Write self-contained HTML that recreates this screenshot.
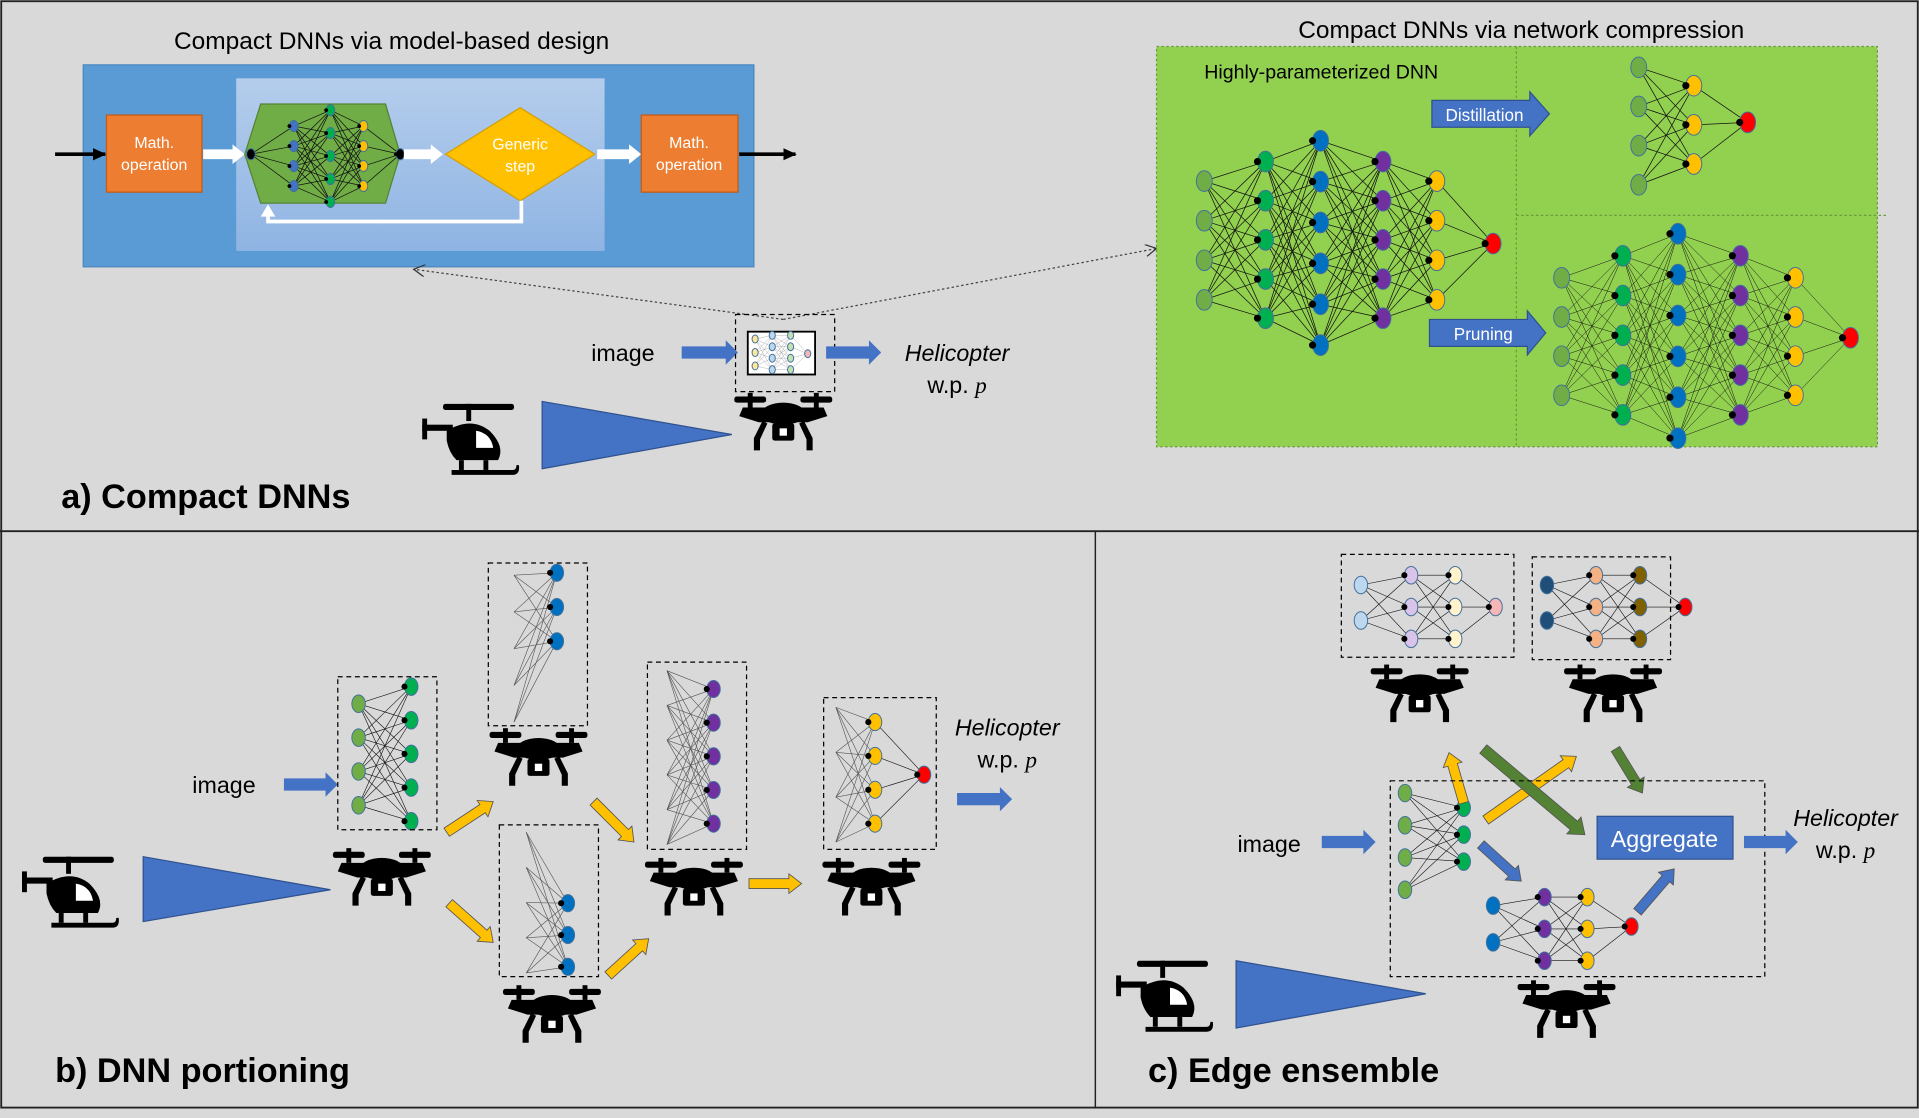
<!DOCTYPE html>
<html><head><meta charset="utf-8"><style>
html,body{margin:0;padding:0;background:#d9d9d9;}
svg{display:block;font-family:"Liberation Sans",sans-serif;}
</style></head><body>
<svg id="s" xmlns="http://www.w3.org/2000/svg" width="1919" height="1118" viewBox="0 0 1568 913.5">
<defs>
<marker id="ah" markerUnits="userSpaceOnUse" markerWidth="12" markerHeight="12" refX="10" refY="6" orient="auto"><path d="M0,1 L11,6 L0,11 z" fill="#000"/></marker>
<marker id="ao" markerUnits="userSpaceOnUse" markerWidth="10" markerHeight="10" refX="9" refY="5" orient="auto"><path d="M0,0 L9,5 L0,10" fill="none" stroke="#333" stroke-width="1"/></marker>
<linearGradient id="lg" x1="0" y1="0" x2="0" y2="1"><stop offset="0" stop-color="#b4cdec"/><stop offset="1" stop-color="#8fb4e3"/></linearGradient>
</defs>
<rect x="0" y="0" width="1568" height="913.5" fill="#d9d9d9"/>
<rect x="1" y="1" width="1566" height="904" fill="none" stroke="#222" stroke-width="1.5"/>
<line x1="0" y1="434" x2="1568" y2="434" stroke="#222" stroke-width="1.5"/>
<line x1="895" y1="434" x2="895" y2="905" stroke="#222" stroke-width="1.2"/>

<text x="320" y="40" font-size="20" text-anchor="middle">Compact DNNs via model-based design</text>
<rect x="68" y="53" width="548" height="165" fill="#5b9bd5" stroke="#4a86c0"/>
<rect x="193" y="64" width="301" height="141" fill="url(#lg)"/>
<line x1="45" y1="126" x2="86" y2="126" stroke="#000" stroke-width="3" marker-end="url(#ah)"/>
<rect x="87" y="94" width="78" height="63" fill="#ed7d31" stroke="#c55a11"/>
<text x="126" y="121" font-size="13" fill="#fff" text-anchor="middle">Math.</text>
<text x="126" y="139" font-size="13" fill="#fff" text-anchor="middle">operation</text>
<polygon points="166,122 190,122 190,118 200,126 190,134 190,130 166,130" fill="#fff"/>
<polygon points="213,85 315,85 327,126 315,166 213,166 200,126" fill="#70ad47" stroke="#548235"/>
<g id="hexnet"></g>
<polygon points="330,122 352,122 352,118 362,126 352,134 352,130 330,130" fill="#fff"/>
<polygon points="425,88 486,126 425,164 364,126" fill="#ffc000" stroke="#d69e00"/>
<text x="425" y="122" font-size="13" fill="#fff" text-anchor="middle">Generic</text>
<text x="425" y="140" font-size="13" fill="#fff" text-anchor="middle">step</text>
<polygon points="488,122 514,122 514,118 524,126 514,134 514,130 488,130" fill="#fff"/>
<rect x="524" y="94" width="79" height="63" fill="#ed7d31" stroke="#c55a11"/>
<text x="563" y="121" font-size="13" fill="#fff" text-anchor="middle">Math.</text>
<text x="563" y="139" font-size="13" fill="#fff" text-anchor="middle">operation</text>
<line x1="604" y1="126" x2="650" y2="126" stroke="#000" stroke-width="3" marker-end="url(#ah)"/>
<polyline points="426,164 426,181 219,181 219,176" fill="none" stroke="#fff" stroke-width="3"/>
<polygon points="213,177 225,177 219,167" fill="#fff"/>

<line x1="640" y1="261" x2="338" y2="220" stroke="#444" stroke-width="1" stroke-dasharray="2,2" marker-end="url(#ao)"/>
<line x1="640" y1="261" x2="945" y2="203" stroke="#444" stroke-width="1" stroke-dasharray="2,2" marker-end="url(#ao)"/>
<text x="509" y="295" font-size="19" text-anchor="middle">image</text>
<polygon points="557,283 593,283 593,278 603,288 593,298 593,293 557,293" fill="#4472c4"/>
<rect x="601" y="257" width="81" height="63" fill="none" stroke="#000" stroke-dasharray="4,3"/>
<rect x="611" y="271" width="55" height="35" fill="#fff" stroke="#000" stroke-width="1.5"/>
<g id="mininet"></g>
<polygon points="675,283 710,283 710,278 720,288 710,298 710,293 675,293" fill="#4472c4"/>
<text x="782" y="295" font-size="19" font-style="italic" text-anchor="middle">Helicopter</text>
<text x="782" y="321" font-size="19" text-anchor="middle">w.p. <tspan font-family="Liberation Serif" font-style="italic">p</tspan></text>
<polygon points="443,328 443,383 598,355" fill="#4472c4" stroke="#2f528f"/>
<text x="50" y="415" font-size="28" font-weight="bold">a) Compact DNNs</text>

<text x="1243" y="31" font-size="20" text-anchor="middle">Compact DNNs via network compression</text>
<rect x="945" y="38" width="589" height="327" fill="#92d050" stroke="#6a9a3a" stroke-dasharray="2,2"/>
<line x1="1239" y1="38" x2="1239" y2="365" stroke="#6a9a3a" stroke-dasharray="2,2"/>
<line x1="1239" y1="176" x2="1542" y2="176" stroke="#6a9a3a" stroke-dasharray="2,2"/>
<text x="984" y="64" font-size="16">Highly-parameterized DNN</text>
<polygon points="1170,82 1250,82 1250,75 1266,93 1250,111 1250,104 1170,104" fill="#4472c4" stroke="#2f528f"/>
<text x="1213" y="99" font-size="14" fill="#fff" text-anchor="middle">Distillation</text>
<polygon points="1168,261 1248,261 1248,254 1263,272 1248,290 1248,283 1168,283" fill="#4472c4" stroke="#2f528f"/>
<text x="1212" y="278" font-size="14" fill="#fff" text-anchor="middle">Pruning</text>
<g id="nets"></g>

<text x="183" y="648" font-size="19" text-anchor="middle">image</text>
<polygon points="232,636 266,636 266,631 276,641 266,651 266,646 232,646" fill="#4472c4"/>
<rect x="276" y="553" width="81" height="125" fill="none" stroke="#000" stroke-dasharray="4,3"/>
<rect x="399" y="460" width="81" height="133" fill="none" stroke="#000" stroke-dasharray="4,3"/>
<rect x="408" y="674" width="81" height="124" fill="none" stroke="#000" stroke-dasharray="4,3"/>
<rect x="529" y="541" width="81" height="153" fill="none" stroke="#000" stroke-dasharray="4,3"/>
<rect x="673" y="570" width="92" height="124" fill="none" stroke="#000" stroke-dasharray="4,3"/>
<polygon points="117,700 117,753 270,727" fill="#4472c4" stroke="#2f528f"/>
<g id="yarrows"></g>
<text x="823" y="601" font-size="19" font-style="italic" text-anchor="middle">Helicopter</text>
<text x="823" y="627" font-size="19" text-anchor="middle">w.p. <tspan font-family="Liberation Serif" font-style="italic">p</tspan></text>
<polygon points="782,648 817,648 817,643 827,653 817,663 817,658 782,658" fill="#4472c4"/>
<text x="45" y="884" font-size="28" font-weight="bold">b) DNN portioning</text>

<rect x="1096" y="453" width="141" height="84" fill="none" stroke="#000" stroke-dasharray="4,3"/>
<rect x="1252" y="455" width="113" height="84" fill="none" stroke="#000" stroke-dasharray="4,3"/>
<rect x="1136" y="638" width="306" height="160" fill="none" stroke="#000" stroke-dasharray="4,3"/>
<text x="1037" y="696" font-size="19" text-anchor="middle">image</text>
<polygon points="1080,683 1114,683 1114,678 1124,688 1114,698 1114,693 1080,693" fill="#4472c4"/>
<rect x="1305" y="667" width="111" height="35" fill="#4472c4" stroke="#2f528f"/>
<text x="1360" y="692" font-size="19" fill="#fff" text-anchor="middle">Aggregate</text>
<polygon points="1425,683 1459,683 1459,678 1469,688 1459,698 1459,693 1425,693" fill="#4472c4"/>
<text x="1508" y="675" font-size="19" font-style="italic" text-anchor="middle">Helicopter</text>
<text x="1508" y="701" font-size="19" text-anchor="middle">w.p. <tspan font-family="Liberation Serif" font-style="italic">p</tspan></text>
<polygon points="1010,785 1010,840 1165,812" fill="#4472c4" stroke="#2f528f"/>
<text x="938" y="884" font-size="28" font-weight="bold">c) Edge ensemble</text>
<g id="icons"></g>
</svg>
<script>
var NS="http://www.w3.org/2000/svg";
function el(p,t,a){var e=document.createElementNS(NS,t);for(var k in a)e.setAttribute(k,a[k]);p.appendChild(e);return e;}
function col(x,ys,c){return {x:x,ys:ys,c:c};}
function net(g,L,r,sw,lc){
  r=r||6;sw=sw||0.6;lc=lc||"#111";
  for(var i=0;i<L.length-1;i++){var a=L[i],b=L[i+1];
    a.ys.forEach(function(y1){b.ys.forEach(function(y2){el(g,"line",{x1:a.x,y1:y1,x2:b.x,y2:y2,stroke:lc,"stroke-width":sw});});});}
  L.forEach(function(l){l.ys.forEach(function(y){el(g,"ellipse",{cx:l.x,cy:y,rx:r,ry:r*1.3,fill:l.c,stroke:"#41719c","stroke-width":0.8});
    if(l.dot!==false && l!==L[0]) el(g,"circle",{cx:l.x-r,cy:y,r:r*0.45,fill:"#000"});});});
}
function ev(a,b,n){var r=[];for(var i=0;i<n;i++)r.push(n==1?a:a+(b-a)*i/(n-1));return r;}
var G="#70ad47",GG="#00b050",B="#0070c0",P="#7030a0",Y="#ffc000",R="#ff0000";
var hx=document.getElementById("hexnet");
net(hx,[col(205,[126],"#000"),col(240,ev(103,152,4),"#4472c4"),col(270,ev(90,165,5),GG),col(297,ev(103,152,4),Y),col(327,[126],"#000")],3.5,0.6);
var mn=document.getElementById("mininet");
var L=[col(617,ev(277,299,3),"#ffe699"),col(631,ev(274,302,4),"#bdd7ee"),col(646,ev(274,302,4),"#c5e0b4"),col(660,[289],"#f4b6b6")];
L.forEach(function(l){l.dot=false;});net(mn,L,2.5,0.3,"#999");
var ns=document.getElementById("nets");
net(ns,[col(984,ev(148,245,4),G),col(1034,ev(132,260,5),GG),col(1079,ev(115,282,6),B),col(1130,ev(132,260,5),P),col(1174,ev(148,245,4),Y),col(1220,[199],R)],6.5,0.6);
net(ns,[col(1339,ev(55,151,4),G),col(1384,ev(70,134,3),Y),col(1428,[100],R)],6.5,0.6);
net(ns,[col(1276,ev(227,323,4),G),col(1326,ev(209,339,5),GG),col(1371,ev(191,358,6),B),col(1422,ev(209,339,5),P),col(1467,ev(227,323,4),Y),col(1512,[276],R)],6.5,0.4);
net(ns,[col(293,ev(575,658,4),G),col(336,ev(561,671,5),GG)],5.5,0.5);
function fan(x0,ys0,x1,ys1,c){ys0.forEach(function(a){ys1.forEach(function(b){el(ns,"line",{x1:x0,y1:a,x2:x1,y2:b,stroke:"#555","stroke-width":0.5});});});
 ys1.forEach(function(y){el(ns,"ellipse",{cx:x1,cy:y,rx:5.5,ry:7,fill:c,stroke:"#41719c","stroke-width":0.8});el(ns,"circle",{cx:x1-5.5,cy:y,r:2.5,fill:"#000"});});}
fan(420,ev(470,590,5),455,ev(468,524,3),B);
fan(430,ev(680,795,5),464,ev(738,790,3),B);
fan(545,ev(548,690,6),583,ev(563,673,5),P);
var yys=ev(590,673,4);
yys.forEach(function(y){el(ns,"line",{x1:715,y1:y,x2:755,y2:633,stroke:"#111","stroke-width":0.5});});
fan(683,ev(578,688,4),715,yys,Y);
el(ns,"ellipse",{cx:755,cy:633,rx:5.5,ry:7,fill:R,stroke:"#41719c","stroke-width":0.8});el(ns,"circle",{cx:749.5,cy:633,r:2.5,fill:"#000"});
net(ns,[col(1112,[478,507],"#bdd7ee"),col(1153,ev(470,522,3),"#d9c3e9"),col(1189,ev(470,522,3),"#fff2cc"),col(1222,[496],"#f4b6b6")],5.5,0.5);
net(ns,[col(1264,[478,507],"#1f4e79"),col(1304,ev(470,522,3),"#f4b183"),col(1340,ev(470,522,3),"#806000"),col(1377,[496],R)],5.5,0.5);
net(ns,[col(1148,ev(648,727,4),G),col(1196,ev(660,704,3),GG)],5.5,0.5);
net(ns,[col(1220,[740,770],B),col(1262,ev(733,785,3),P),col(1297,ev(733,785,3),Y),col(1333,[757],R)],5.5,0.5);
function tarr(g,x1,y1,x2,y2,c,w){var dx=x2-x1,dy=y2-y1,Ln=Math.hypot(dx,dy),ux=dx/Ln,uy=dy/Ln,px=-uy,py=ux,h=w,hw=w;
 var bx=x2-ux*h*1.3,by=y2-uy*h*1.3,s=w/2;
 var pts=[[x1+px*s,y1+py*s],[bx+px*s,by+py*s],[bx+px*hw,by+py*hw],[x2,y2],[bx-px*hw,by-py*hw],[bx-px*s,by-py*s],[x1-px*s,y1-py*s]];
 el(g,"polygon",{points:pts.map(function(p){return p.join(",")}).join(" "),fill:c,stroke:"#555","stroke-width":0.7});}
var ya=document.getElementById("yarrows");
var YA="#ffc000";
tarr(ya,365,680,403,655,YA,8);tarr(ya,367,738,403,770,YA,8);tarr(ya,485,655,518,688,YA,8);tarr(ya,497,797,530,767,YA,8);tarr(ya,612,722,655,722,YA,8);
tarr(ns,1196,656,1184,615,YA,8);tarr(ns,1214,670,1288,618,YA,8);
tarr(ns,1212,612,1295,682,"#548235",9);tarr(ns,1320,612,1342,648,"#548235",8);
tarr(ns,1210,690,1243,720,"#4472c4",8);tarr(ns,1338,745,1368,710,"#4472c4",8);
var ic=document.getElementById("icons");
function drone(cx,cy){var g=el(ic,"g",{transform:"translate("+cx+","+cy+")",fill:"#000"});
 el(g,"rect",{x:-40,y:-24,width:26,height:5,rx:2});el(g,"rect",{x:14,y:-24,width:26,height:5,rx:2});
 el(g,"rect",{x:-29,y:-27,width:4,height:12});el(g,"rect",{x:25,y:-27,width:4,height:12});
 el(g,"path",{d:"M-33,-15 L33,-15 L36,-8 L20,-3 L-20,-3 L-36,-8 Z"});
 el(g,"ellipse",{cx:0,cy:-10,rx:18,ry:9});
 el(g,"path",{d:"M-17,-4 L-24,10 L-24,20 L-19,20 L-19,11 L-13,-2 Z"});
 el(g,"path",{d:"M17,-4 L24,10 L24,20 L19,20 L19,11 L13,-2 Z"});
 el(g,"rect",{x:-9,y:-2,width:18,height:14,rx:2});el(g,"rect",{x:-3,y:2,width:6,height:6,fill:"#fff"});}
function heli(x,y){var g=el(ic,"g",{transform:"translate("+x+","+y+")",fill:"#000"});
 el(g,"rect",{x:17,y:0,width:58,height:5,rx:2});el(g,"rect",{x:36,y:0,width:4,height:14});
 el(g,"path",{d:"M20,22 Q40,10 55,22 Q68,35 62,46 L28,46 Q22,40 20,30 Z"});
 el(g,"rect",{x:0,y:17,width:25,height:5});el(g,"rect",{x:0,y:12,width:4,height:17});
 el(g,"path",{d:"M44,22 Q56,24 58,36 L44,36 Z",fill:"#fff"});
 el(g,"rect",{x:30,y:46,width:4,height:8});el(g,"rect",{x:50,y:46,width:4,height:8});
 el(g,"path",{d:"M24,54 L74,54 Q77,54 77,50 L79,50 Q80,58 74,58 L24,58 Z"});}
drone(640,348);drone(312,720);drone(440,622);drone(451,832);drone(567,728);drone(712,728);
drone(1160,570);drone(1318,570);drone(1280,828);
heli(345,330);heli(18,700);heli(912,785);
</script>
</body></html>
